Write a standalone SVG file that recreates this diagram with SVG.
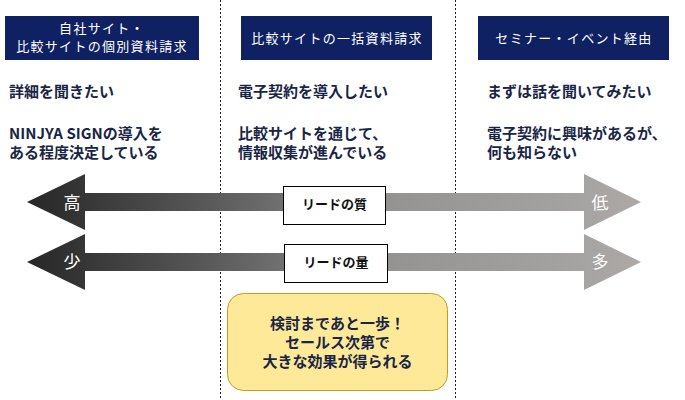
<svg xmlns="http://www.w3.org/2000/svg" width="685" height="400" viewBox="0 0 685 400">
  <style>
    .hdr { fill: #0f2162; }
    .hdrt { fill: #ffffff; font-family: "Noto Sans CJK JP", "Noto Sans", sans-serif; font-size: 13px; letter-spacing: 1.3px; text-anchor: middle; }
    .body { fill: #1a2545; font-family: "Noto Sans CJK JP", "Noto Sans", sans-serif; font-size: 15px; font-weight: bold; }
    .lbl { fill: #ffffff; font-family: "Noto Sans CJK JP", sans-serif; font-size: 17px; text-anchor: middle; }
    .tag { fill: #ffffff; stroke: #000000; stroke-width: 1; }
    .tagt { fill: #111111; font-family: "Noto Sans CJK JP", sans-serif; font-size: 13px; font-weight: bold; text-anchor: middle; }
    .sep { stroke: #222222; stroke-width: 1; stroke-dasharray: 2 2; }
    .note { fill: #1a2545; font-family: "Noto Sans CJK JP", sans-serif; font-size: 15px; font-weight: bold; text-anchor: middle; }
  </style>
  <defs>
    <linearGradient id="arrowGrad" gradientUnits="userSpaceOnUse" x1="27" y1="0" x2="641" y2="0">
      <stop offset="0" stop-color="#262626"/>
      <stop offset="0.3" stop-color="#5a5a5a"/>
      <stop offset="0.6" stop-color="#959493"/>
      <stop offset="1" stop-color="#aba8a6"/>
    </linearGradient>
  </defs>
  <rect width="685" height="400" fill="#ffffff"/>

  <g id="separators">
    <line class="sep" x1="220.5" y1="0" x2="220.5" y2="400"/>
    <line class="sep" x1="455.5" y1="0" x2="455.5" y2="400"/>
  </g>

  <g id="header1">
    <rect class="hdr" x="5" y="16" width="194" height="44"/>
    <text class="hdrt" x="102" y="33">自社サイト・</text>
    <text class="hdrt" x="102" y="51">比較サイトの個別資料請求</text>
  </g>
  <g id="header2">
    <rect class="hdr" x="241" y="16" width="191" height="44"/>
    <text class="hdrt" x="337" y="43">比較サイトの一括資料請求</text>
  </g>
  <g id="header3">
    <rect class="hdr" x="478" y="16" width="191" height="44"/>
    <text class="hdrt" x="574" y="43">セミナー・イベント経由</text>
  </g>

  <g id="col1">
    <text class="body" x="9" y="97">詳細を聞きたい</text>
    <text class="body" x="9" y="139">NINJYA SIGNの導入を</text>
    <text class="body" x="9" y="158">ある程度決定している</text>
  </g>
  <g id="col2">
    <text class="body" x="238" y="97">電子契約を導入したい</text>
    <text class="body" x="238" y="139">比較サイトを通じて、</text>
    <text class="body" x="238" y="158">情報収集が進んでいる</text>
  </g>
  <g id="col3">
    <text class="body" x="487" y="97">まずは話を聞いてみたい</text>
    <text class="body" x="487" y="139">電子契約に興味があるが、</text>
    <text class="body" x="487" y="158">何も知らない</text>
  </g>

  <g id="arrows">
    <polygon fill="url(#arrowGrad)" points="27,202 85,174 85,193 584,193 584,174 641,202 584,230 584,211 85,211 85,230"/>
    <polygon fill="url(#arrowGrad)" points="27,262 85,234 85,253 584,253 584,234 641,262 584,290 584,271 85,271 85,290"/>
    <text class="lbl" x="72" y="209">高</text>
    <text class="lbl" x="600" y="209">低</text>
    <text class="lbl" x="72" y="268">少</text>
    <text class="lbl" x="600" y="268">多</text>
  </g>

  <g id="quality">
    <rect class="tag" x="283.5" y="186.5" width="102" height="38"/>
    <text class="tagt" x="334.5" y="209">リードの質</text>
  </g>
  <g id="quantity">
    <rect class="tag" x="284.5" y="244.5" width="103" height="38"/>
    <text class="tagt" x="336" y="267">リードの量</text>
  </g>

  <g id="note">
    <rect x="227.5" y="293.5" width="220" height="97" rx="16" ry="16" fill="#fde998" stroke="#c49b22" stroke-width="1"/>
    <text class="note" x="337.5" y="329">検討まであと一歩！</text>
    <text class="note" x="337.5" y="348">セールス次第で</text>
    <text class="note" x="337.5" y="367">大きな効果が得られる</text>
  </g>
</svg>
